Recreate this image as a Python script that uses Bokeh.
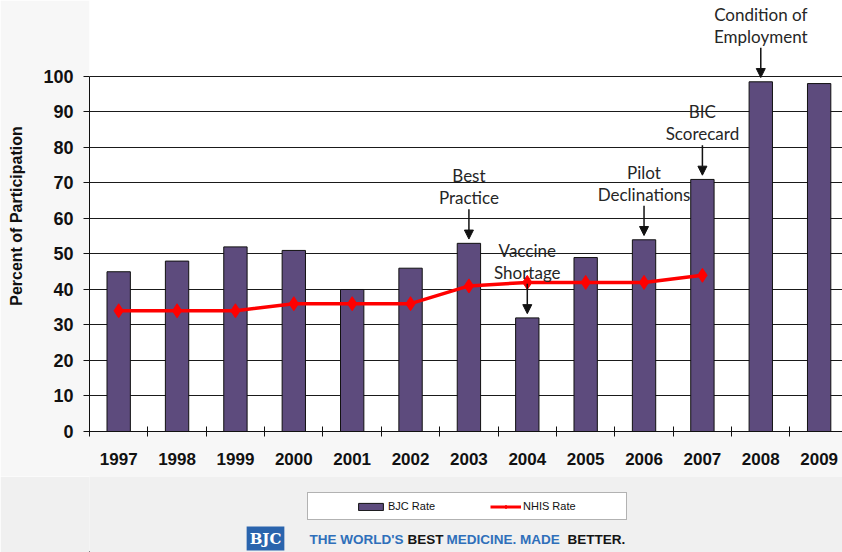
from bokeh.plotting import figure
from bokeh.layouts import column
from bokeh.models import (Range1d, FixedTicker, Legend, LegendItem, Arrow, NormalHead, Label, BoxAnnotation)
from bokeh.embed import file_html
from bokeh.resources import INLINE

years = ["1997", "1998", "1999", "2000", "2001", "2002", "2003", "2004", "2005", "2006", "2007", "2008", "2009"]
bjc_rate = [45, 48, 52, 51, 40, 46, 53, 32, 49, 54, 71, 98.5, 98]
nhis_years = ["1997", "1998", "1999", "2000", "2001", "2002", "2003", "2004", "2005", "2006", "2007"]
nhis_rate = [34, 34, 34, 36, 36, 36, 41, 42, 42, 42, 44]
y_ticks = [0, 10, 20, 30, 40, 50, 60, 70, 80, 90, 100]
note_years = ["2003", "2004", "2006", "2007", "2008"]
note_texts = ["Best\nPractice", "Vaccine\nShortage", "Pilot\nDeclinations", "BIC\nScorecard", "Condition of\nEmployment"]

BAR_COLOR = "#5d4b7d"
LINE_COLOR = "#ff0000"
INK = "#111111"

idx = list(range(len(years)))
nhis_idx = [years.index(y) for y in nhis_years]

# ---------------- main chart ----------------
p = figure(width=842, height=476, output_backend="svg", toolbar_location=None,
           x_range=Range1d(-0.5, 12.4), y_range=Range1d(0, 121.4),
           min_border_left=89, min_border_right=0, min_border_top=0, min_border_bottom=45)
p.outline_line_color = None
p.background_fill_color = "white"
p.border_fill_color = "#f7f7f7"

bars = p.vbar(x=idx, top=bjc_rate, width=0.4, fill_color=BAR_COLOR, line_color=INK, line_width=1)
ln = p.line(x=nhis_idx, y=nhis_rate, line_color=LINE_COLOR, line_width=3.5)
sc = p.scatter(x=nhis_idx, y=nhis_rate, marker="diamond", size=14, fill_color=LINE_COLOR, line_color=LINE_COLOR)

p.xaxis.ticker = FixedTicker(ticks=idx, minor_ticks=[i - 0.5 for i in idx] + [len(idx) - 0.5])
p.xaxis.major_label_overrides = {i: y for i, y in zip(idx, years)}
p.xaxis.major_tick_line_color = None
p.xaxis.major_tick_in = 0
p.xaxis.major_tick_out = 0
p.xaxis.minor_tick_in = 5
p.xaxis.minor_tick_out = 5
p.xaxis.minor_tick_line_color = INK
p.xaxis.axis_line_color = INK
p.xaxis.major_label_text_font = "Liberation Sans"
p.xaxis.major_label_text_font_style = "bold"
p.xaxis.major_label_text_font_size = "17px"
p.xaxis.major_label_text_color = INK
p.xaxis.major_label_standoff = 16

p.yaxis.ticker = FixedTicker(ticks=y_ticks, minor_ticks=[])
p.yaxis.bounds = (0, 100)
p.yaxis.major_tick_in = 0
p.yaxis.major_tick_out = 6
p.yaxis.major_tick_line_color = INK
p.yaxis.axis_line_color = INK
p.yaxis.major_label_text_font = "Liberation Sans"
p.yaxis.major_label_text_font_style = "bold"
p.yaxis.major_label_text_font_size = "18px"
p.yaxis.major_label_text_color = INK
p.yaxis.major_label_standoff = 10
p.yaxis.axis_label = "Percent of Participation"
p.yaxis.axis_label_text_font = "Liberation Sans"
p.yaxis.axis_label_text_font_style = "bold"
p.yaxis.axis_label_text_font_size = "16px"
p.yaxis.axis_label_text_color = INK
p.yaxis.axis_label_standoff = 15

p.xgrid.grid_line_color = None
p.ygrid.ticker = FixedTicker(ticks=y_ticks)
p.ygrid.grid_line_color = "#1a1a1a"
p.ygrid.grid_line_width = 1

for yr, txt in zip(note_years, note_texts):
    i = years.index(yr)
    tip = bjc_rate[i] + 1.2
    tail = bjc_rate[i] + 9.6
    p.add_layout(Arrow(end=NormalHead(size=9, fill_color=INK, line_color=INK),
                       x_start=i, y_start=tail, x_end=i, y_end=tip,
                       line_color=INK, line_width=1.5))
    p.add_layout(Label(x=i, y=tail + 0.3, text=txt, text_align="center", text_baseline="bottom",
                       text_font="Lato", text_font_size="17px", text_color="#262626",
                       text_line_height=1.05))

# ---------------- footer: legend + branding (x in page pixels) ----------------
f = figure(width=842, height=76, output_backend="svg", toolbar_location=None,
           x_range=Range1d(89, 842), y_range=Range1d(0, 76),
           x_axis_location=None, y_axis_location=None,
           min_border_left=89, min_border_right=0, min_border_top=0, min_border_bottom=0)
f.outline_line_color = None
f.xgrid.grid_line_color = None
f.ygrid.grid_line_color = None
f.background_fill_color = "#f0f0f0"
f.border_fill_color = "#f0f0f0"

f.add_layout(BoxAnnotation(left=307, right=626, bottom=33, top=60, fill_color="white", fill_alpha=1,
                           line_color=INK, line_width=1, level="underlay"))
# legend proxies (kept outside the visible range; only their legend glyphs show)
lb = f.vbar(x=[-1000], top=[1], width=1, fill_color=BAR_COLOR, line_color=INK, line_width=1)
ll = f.line(x=[-1001, -1000], y=[1, 1], line_color=LINE_COLOR, line_width=3)
ls = f.scatter(x=[-1000], y=[1], marker="diamond", size=8, fill_color=LINE_COLOR, line_color=LINE_COLOR)
legend = Legend(items=[LegendItem(label="BJC Rate", renderers=[lb]),
                       LegendItem(label="NHIS Rate", renderers=[ll, ls])],
                orientation="horizontal", location=(355 - 89, 40),
                border_line_color=None, background_fill_alpha=0, padding=0, margin=0,
                spacing=6, label_width=96, glyph_width=31, glyph_height=9, label_standoff=2,
                label_text_font="Liberation Sans", label_text_font_size="11px", label_text_color=INK)
f.add_layout(legend, "center")

f.add_layout(Label(x=265, y=14, text="BJC", text_align="center", text_baseline="middle",
                   text_font="DejaVu Serif", text_font_style="bold", text_font_size="15px",
                   text_color="white", background_fill_color="#2a64ad", padding=3))
footer_parts = [("THE WORLD'S", 309, "#2f6fba"), ("BEST", 407, "#141414"),
                ("MEDICINE. MADE", 446, "#2f6fba"), ("BETTER.", 567, "#141414")]
for txt, xs, col in footer_parts:
    f.add_layout(Label(x=xs, y=13, text=txt, text_align="left", text_baseline="middle",
                       text_font="Liberation Sans", text_font_style="bold",
                       text_font_size="13.5px", text_color=col))

layout = column(p, f, spacing=0)
open("out.html", "w").write(file_html(layout, INLINE))
